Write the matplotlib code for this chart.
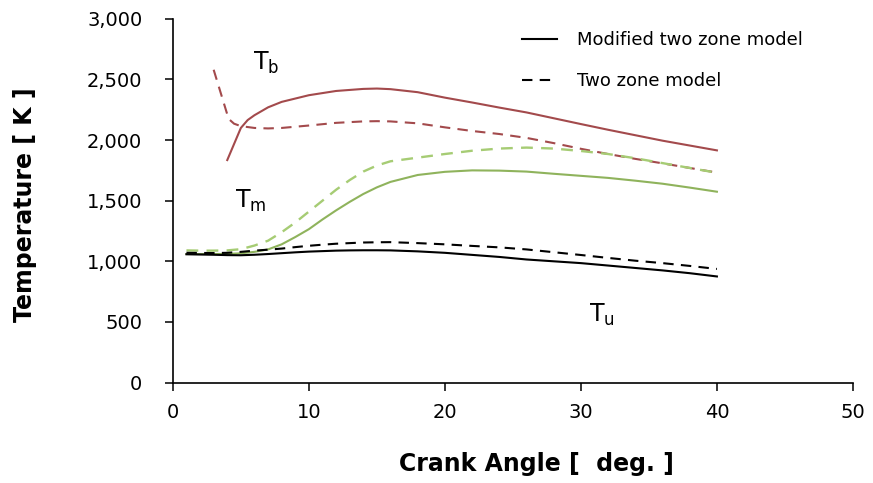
import matplotlib.pyplot as plt
from matplotlib.lines import Line2D

# Datos (angulo de ciguenal en grados, temperatura en K)
ca_tb_mod = [4, 5, 5.5, 6, 7, 8, 10, 12, 14, 15, 16, 18, 20, 22, 24, 26, 28, 30, 32, 34, 36, 38, 40]
tb_mod = [1835, 2100, 2165, 2205, 2270, 2315, 2370, 2405, 2422, 2425, 2420, 2395, 2350, 2310,
          2268, 2228, 2180, 2132, 2085, 2040, 1995, 1955, 1915]

ca_tb_two = [3, 4.1, 4.5, 5, 6, 7, 8, 10, 12, 14, 15, 16, 18, 20, 22, 24, 26, 28, 30, 32, 34, 36, 38, 40]
tb_two = [2580, 2175, 2135, 2115, 2100, 2096, 2100, 2120, 2142, 2154, 2156, 2154, 2138,
          2105, 2075, 2050, 2018, 1975, 1928, 1885, 1845, 1808, 1770, 1732]

ca = [1, 2, 3, 4, 5, 6, 7, 8, 9, 10, 11, 12, 13, 14, 15, 16, 18, 20, 22, 24, 26, 28, 30, 32, 34, 36, 38, 40]
tm_mod = [1060, 1060, 1060, 1061, 1066, 1078, 1098, 1140, 1200, 1265, 1345, 1420, 1490, 1555,
          1610, 1655, 1712, 1738, 1750, 1748, 1740, 1722, 1705, 1688, 1665, 1640, 1608, 1574]
tm_two = [1090, 1088, 1088, 1090, 1100, 1130, 1170, 1240, 1320, 1410, 1500, 1590, 1670, 1740,
          1790, 1825, 1855, 1885, 1912, 1930, 1938, 1930, 1910, 1885, 1850, 1810, 1770, 1730]
tu_mod = [1058, 1056, 1054, 1051, 1050, 1054, 1060, 1067, 1074, 1080, 1084, 1088, 1090, 1091,
          1091, 1090, 1082, 1070, 1053, 1036, 1015, 1000, 985, 965, 945, 925, 902, 875]
tu_two = [1070, 1069, 1068, 1070, 1078, 1088, 1096, 1105, 1117, 1128, 1137, 1145, 1150, 1155,
          1157, 1158, 1150, 1140, 1127, 1115, 1098, 1075, 1052, 1028, 1005, 985, 962, 937]

x_ticks = [0, 10, 20, 30, 40, 50]
y_ticks = [0, 500, 1000, 1500, 2000, 2500, 3000]
y_tick_labels = ["0", "500", "1,000", "1,500", "2,000", "2,500", "3,000"]

red = "#A34A4C"
green = "#8FB35C"
green_light = "#A6CC74"
dash = (0, (5, 3.5))

fig = plt.figure(figsize=(8.73, 4.83), dpi=100)
ax = fig.add_axes([0.198, 0.208, 0.779, 0.753])

ax.plot(ca_tb_mod, tb_mod, color=red, lw=1.5)
ax.plot(ca_tb_two, tb_two, color=red, lw=1.5, ls=dash)
ax.plot(ca, tm_mod, color=green, lw=1.5)
ax.plot(ca, tm_two, color=green_light, lw=1.7, ls=dash)
ax.plot(ca, tu_mod, color="black", lw=1.5)
ax.plot(ca, tu_two, color="black", lw=1.5, ls=dash)

# Etiquetas de cada zona
ax.text(5.9, 2640, r"$\mathregular{T_b}$", fontsize=17, va="center", family="DejaVu Sans")
ax.text(4.6, 1500, r"$\mathregular{T_m}$", fontsize=17, va="center", family="DejaVu Sans")
ax.text(30.6, 560, r"$\mathregular{T_u}$", fontsize=17, va="center", family="DejaVu Sans")

# Leyenda
handles = [Line2D([], [], color="black", lw=1.5),
           Line2D([], [], color="black", lw=1.5, ls=dash)]
ax.legend(handles, ["Modified two zone model", "Two zone model"], loc="upper left",
          bbox_to_anchor=(0.49, 1.01), frameon=False, labelspacing=1.25,
          handlelength=1.9, handletextpad=1.15, prop={"family": "DejaVu Sans", "size": 13})

ax.set_xlim(0, 50)
ax.set_ylim(0, 3000)
ax.set_xticks(x_ticks)
ax.set_yticks(y_ticks)
ax.set_yticklabels(y_tick_labels)
ax.tick_params(direction="out", length=6, width=1.1, labelsize=14)
ax.tick_params(axis="x", pad=9)
ax.tick_params(axis="y", pad=16)
for lab in ax.get_xticklabels() + ax.get_yticklabels():
    lab.set_family("DejaVu Sans")

ax.spines["top"].set_visible(False)
ax.spines["right"].set_visible(False)
ax.spines["left"].set_linewidth(1.2)
ax.spines["bottom"].set_linewidth(1.2)

ax.set_xlabel("Crank Angle [  deg. ]", fontsize=17, fontweight="bold", family="DejaVu Sans")
ax.set_ylabel("Temperature [ K ]", fontsize=17, fontweight="bold", family="DejaVu Sans")
ax.xaxis.set_label_coords(0.535, -0.19)
ax.yaxis.set_label_coords(-0.2, 0.49)

fig.savefig("out.png", dpi=100)
